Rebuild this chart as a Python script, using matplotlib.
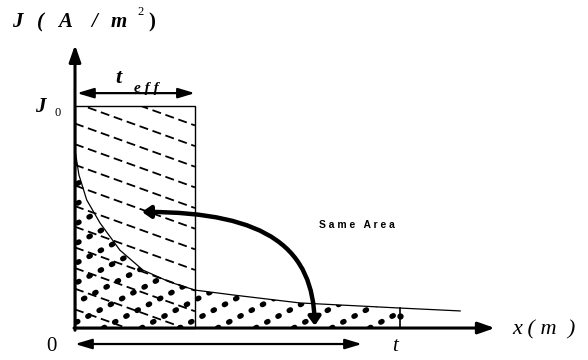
import numpy as np
import matplotlib.pyplot as plt
from matplotlib.patches import Rectangle, Polygon, FancyArrowPatch
from matplotlib.path import Path

# current density profile J(x), normalised so that J0 = 1 and t = 1
x_curve = [0.0, 0.012, 0.036, 0.077, 0.138, 0.209, 0.292, 0.369, 0.486, 0.692, 1.0, 1.185]
j_curve = [0.802, 0.69, 0.577, 0.473, 0.351, 0.261, 0.207, 0.171, 0.149, 0.113, 0.090, 0.077]
J0 = 1.0
t_eff = 0.369
t_end = 1.0

fig = plt.figure(figsize=(5.88, 3.6), dpi=100)
ax = fig.add_axes([0, 0, 1, 1])
ax.set_xlim(-0.2308, 1.5785)
ax.set_ylim(-0.144, 1.4775)
ax.axis("off")

serif = "Liberation Serif"

# area under the decaying curve, filled with rows of dots
xs = np.array(x_curve)
js = np.array(j_curve)
mask = xs <= t_end
under = np.vstack([[0, 0], np.column_stack([xs[mask], js[mask]]), [t_end, 0]])
under_patch = Polygon(under, closed=True, fill=False, lw=0)
ax.add_patch(under_patch)
slope_dot = 0.76
for x0 in np.arange(-1.2, 1.2, 0.117):
    xx = np.array([x0, x0 + 1.5])
    ln, = ax.plot(xx, slope_dot * (xx - x0), color="black", lw=3.8,
                  linestyle=(0, (0.3, 2.1)), dash_capstyle="round")
    ln.set_clip_path(under_patch)

# equivalent rectangle J0 * t_eff, filled with dashed diagonals
rect = Rectangle((0, 0), t_eff, J0, fill=False, lw=1.0, ec="black")
ax.add_patch(rect)
slope_dash = -0.527
for c in np.arange(J0 + 0.2, -0.05, -0.093):
    xx = np.array([0, t_eff])
    ln, = ax.plot(xx, c + slope_dash * xx, color="black", lw=1.3,
                  linestyle=(0, (5, 2.6)))
    ln.set_clip_path(rect)

# J(x) curve and the film thickness marker
ax.plot(x_curve, j_curve, color="black", lw=0.9)
ax.plot([t_end, t_end], [0, np.interp(t_end, xs, js)], color="black", lw=1.2)
ax.plot([t_end], [0.055], marker="o", ms=3.5, color="black")

# axes with arrow heads
ax.annotate("", xy=(1.292, 0), xytext=(-0.003, 0),
            arrowprops=dict(arrowstyle="-|>,head_length=1.0,head_width=0.35",
                            lw=2.2, color="black", shrinkA=0, shrinkB=0))
ax.annotate("", xy=(0, 1.275), xytext=(0, -0.01),
            arrowprops=dict(arrowstyle="-|>,head_length=1.0,head_width=0.35",
                            lw=2.2, color="black", shrinkA=0, shrinkB=0))

# t_eff and t dimension arrows
ax.annotate("", xy=(t_eff, 1.058), xytext=(0.006, 1.058),
            arrowprops=dict(arrowstyle="<|-|>,head_length=1.0,head_width=0.3",
                            lw=1.6, color="black", shrinkA=0, shrinkB=0))
ax.annotate("", xy=(0.883, -0.072), xytext=(0.0, -0.072),
            arrowprops=dict(arrowstyle="<|-|>,head_length=1.0,head_width=0.3",
                            lw=1.6, color="black", shrinkA=0, shrinkB=0))

# curved "same area" arrow
verts = [(0.206, 0.523), (0.6, 0.523), (0.732, 0.351), (0.738, 0.01)]
codes = [Path.MOVETO, Path.CURVE4, Path.CURVE4, Path.CURVE4]
arc = FancyArrowPatch(path=Path(verts, codes),
                      arrowstyle="<|-|>,head_length=5,head_width=3.5",
                      lw=3.2, color="black")
ax.add_patch(arc)

# y axis title, one glyph at a time for the wide spacing
title_parts = [("J", -0.178, True), ("(", -0.105, True), ("A", -0.03, True),
               ("/", 0.06, True), ("m", 0.135, True), (")", 0.237, False)]
for s, xp, it in title_parts:
    ax.text(xp, 1.378, s, fontsize=15, family=serif, weight="bold",
            style="italic" if it else "normal", ha="center", va="center")
ax.text(0.203, 1.423, "2", fontsize=9, family=serif, ha="center", va="center")

ax.text(0.133, 1.128, "t", fontsize=16, family=serif, weight="bold",
        style="italic", ha="center", va="center")
ax.text(0.22, 1.078, "e f f", fontsize=11, family=serif, weight="bold",
        style="italic", ha="center", va="center")
ax.text(-0.108, 0.995, "J", fontsize=15, family=serif, weight="bold",
        style="italic", ha="center", va="center")
ax.text(-0.055, 0.97, "0", fontsize=9, family=serif, ha="center", va="center")
ax.text(0.868, 0.464, "S a m e   A r e a", fontsize=7.5, family="Liberation Sans",
        weight="bold", ha="center", va="center")
ax.text(1.346, -0.009, "x ( m  )", fontsize=16, family=serif, style="italic",
        ha="left", va="center")
ax.text(-0.071, -0.083, "0", fontsize=15, family=serif, ha="center", va="center")
ax.text(0.985, -0.083, "t", fontsize=15, family=serif, style="italic",
        ha="center", va="center")

fig.savefig("out.png", dpi=100)
